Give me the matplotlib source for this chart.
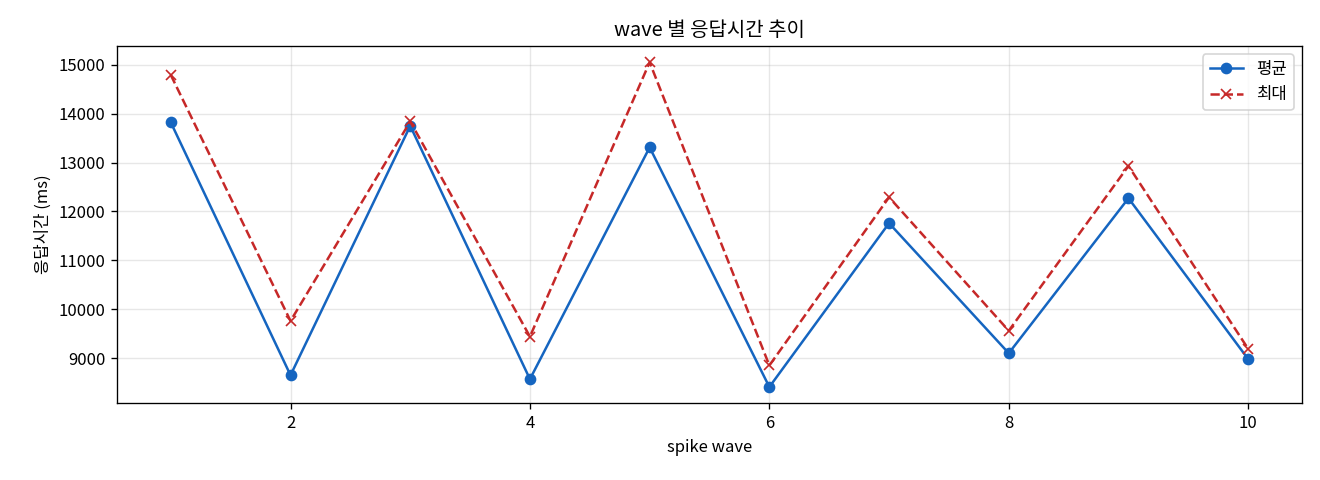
import matplotlib
matplotlib.use('Agg')
import matplotlib.pyplot as plt

plt.rcParams['font.family'] = ['Noto Sans CJK KR', 'DejaVu Sans']
plt.rcParams['axes.unicode_minus'] = False

waves = [1, 2, 3, 4, 5, 6, 7, 8, 9, 10]
avg_ms = [13820, 8650, 13750, 8570, 13310, 8410, 11760, 9100, 12270, 8980]
max_ms = [14790, 9760, 13840, 9440, 15050, 8850, 12290, 9560, 12930, 9190]

fig, ax = plt.subplots(figsize=(11, 4), dpi=120)
ax.plot(waves, avg_ms, marker='o', color='#1565C0', label='평균')
ax.plot(waves, max_ms, marker='x', linestyle='--', color='#C62828', label='최대')

ax.set_title('wave 별 응답시간 추이')
ax.set_xlabel('spike wave')
ax.set_ylabel('응답시간 (ms)')
ax.grid(True, alpha=0.3)
ax.legend()

# margins matched to the reference instead of tight_layout
fig.subplots_adjust(left=0.0886, right=0.9864, top=0.904, bottom=0.160)
fig.savefig('out.png')
